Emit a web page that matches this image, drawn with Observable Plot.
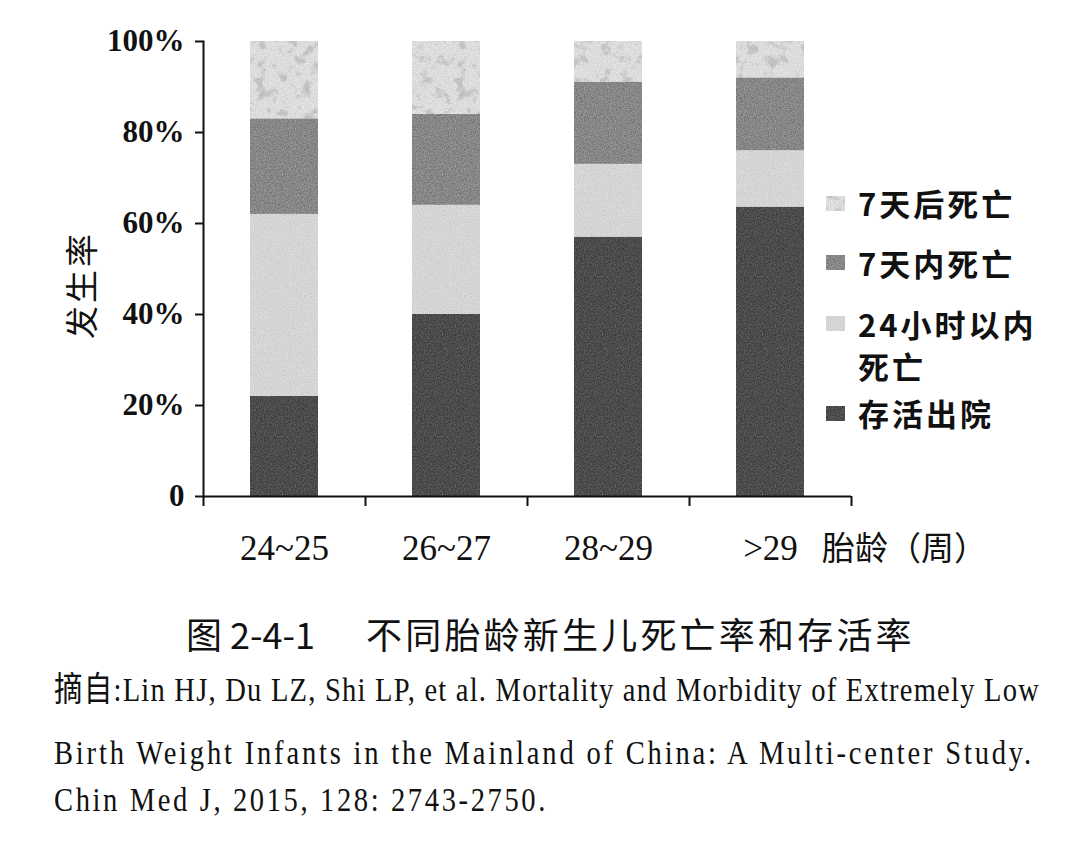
<!DOCTYPE html>
<html>
<head>
<meta charset="utf-8">
<script src="https://cdn.jsdelivr.net/npm/d3@7"></script>
<script src="https://cdn.jsdelivr.net/npm/@observablehq/plot@0.6"></script>
<style>
  html, body { margin: 0; padding: 0; background: #fff; }
  #root { position: relative; width: 1086px; height: 843px; overflow: hidden; background: #fff; }
  #chart { position: absolute; left: 0; top: 0; }
  .abs { position: absolute; white-space: nowrap; color: #111; }
  .cjk { font-family: "Noto Sans CJK SC", sans-serif; }
  .legend-item { position: absolute; left: 858px; font-family: "Noto Sans CJK SC", sans-serif; font-weight: bold; font-size: 31px; line-height: 42px; letter-spacing: 3px; color: #111; white-space: nowrap; }
  .swatch { position: absolute; left: 826px; width: 19px; height: 15px; }
  .cite { position: absolute; left: 54px; font-family: "Liberation Serif", "Noto Sans CJK SC", serif; font-size: 34px; line-height: 34px; color: #111; white-space: nowrap; transform-origin: 0 50%; }
</style>
</head>
<body>
<svg width="0" height="0" style="position:absolute">
  <defs>
    <filter id="fNoise" x="0" y="0" width="100%" height="100%">
      <feTurbulence type="fractalNoise" baseFrequency="0.85" numOctaves="2" seed="4"/>
      <feColorMatrix type="matrix" values="0 0 0 0 0  0 0 0 0 0  0 0 0 0 0  1.6 0 0 0 -0.55"/>
    </filter>
    <filter id="fNoiseLight" x="0" y="0" width="100%" height="100%">
      <feTurbulence type="fractalNoise" baseFrequency="0.85" numOctaves="2" seed="9"/>
      <feColorMatrix type="matrix" values="0 0 0 0 1  0 0 0 0 1  0 0 0 0 1  1.6 0 0 0 -0.6"/>
    </filter>
    <filter id="fBlob" x="0" y="0" width="100%" height="100%">
      <feTurbulence type="fractalNoise" baseFrequency="0.09" numOctaves="3" seed="7"/>
      <feColorMatrix type="matrix" values="0 0 0 0 0.5  0 0 0 0 0.5  0 0 0 0 0.5  5 0 0 0 -2.6"/>
    </filter>
    <pattern id="pDark" patternUnits="userSpaceOnUse" width="160" height="160">
      <rect width="160" height="160" fill="#4a4a4a"/>
      <rect width="160" height="160" filter="url(#fNoise)" opacity="0.45"/>
      <rect width="160" height="160" filter="url(#fNoiseLight)" opacity="0.25"/>
    </pattern>
    <pattern id="pLight" patternUnits="userSpaceOnUse" width="160" height="160">
      <rect width="160" height="160" fill="#dcdcdc"/>
      <rect width="160" height="160" filter="url(#fNoise)" opacity="0.12"/>
    </pattern>
    <pattern id="pMid" patternUnits="userSpaceOnUse" width="160" height="160">
      <rect width="160" height="160" fill="#8b8b8b"/>
      <rect width="160" height="160" filter="url(#fNoise)" opacity="0.35"/>
      <rect width="160" height="160" filter="url(#fNoiseLight)" opacity="0.3"/>
    </pattern>
    <pattern id="pSpeck" patternUnits="userSpaceOnUse" width="200" height="200">
      <rect width="200" height="200" fill="#e6e6e6"/>
      <rect width="200" height="200" filter="url(#fBlob)" opacity="0.7"/>
      <rect width="200" height="200" filter="url(#fNoise)" opacity="0.15"/>
    </pattern>
  </defs>
</svg>
<div id="root"></div>
<script>
// ---- data ----
const categories = ["24~25", "26~27", "28~29", ">29"];
const seriesNames = ["存活出院", "24小时以内死亡", "7天内死亡", "7天后死亡"];
const survival = [22, 40, 57, 63.6];
const death24h = [40, 24, 16, 12.4];
const death7d = [21, 20, 18, 16];
const deathAfter7d = [17, 16, 9, 8];
const yTicks = [0, 20, 40, 60, 80, 100];
const fills = ["url(#pDark)", "url(#pLight)", "url(#pMid)", "url(#pSpeck)"];
const legendLabels = ["7天后死亡", "7天内死亡", "24小时以内\n死亡", "存活出院"];

const seriesValues = [survival, death24h, death7d, deathAfter7d];
const data = [];
categories.forEach((c, i) => {
  seriesNames.forEach((s, j) => data.push({cat: c, series: s, value: seriesValues[j][i]}));
});

const root = document.getElementById("root");

const chart = Plot.plot({
  width: 1086,
  height: 600,
  marginTop: 41,
  marginBottom: 104,
  marginLeft: 203,
  marginRight: 235,
  style: {fontFamily: "'Liberation Serif', serif", color: "#111", background: "transparent"},
  x: {domain: categories, paddingInner: 0.58, paddingOuter: 0.29, label: null},
  y: {domain: [0, 100], label: null},
  color: {type: "ordinal", domain: seriesNames, range: fills},
  marks: [
    Plot.barY(data, {x: "cat", y: "value", fill: "series", order: null}),
    Plot.ruleY([0], {stroke: "#111", strokeWidth: 2}),
    Plot.frame({anchor: "left", stroke: "#111", strokeWidth: 2}),
    Plot.axisY({ticks: yTicks, tickSize: 8, tickPadding: 11, strokeWidth: 2,
      tickFormat: d => d === 0 ? "0" : d + "%", fontSize: 31, fontWeight: "bold", label: null}),
    Plot.axisX({tickSize: 0, tickPadding: 39, fontSize: 35, label: null}),
    Plot.axisX({ticks: categories, tickSize: 10, strokeWidth: 2, tickFormat: null, dx: -81, label: null}),
    Plot.axisX({ticks: [categories[3]], tickSize: 10, strokeWidth: 2, tickFormat: null, dx: 81, label: null})
  ]
});
chart.id = "chart";
root.appendChild(chart);

function addText(txt, cls, styles) {
  const d = document.createElement("div");
  d.className = cls;
  d.textContent = txt;
  Object.assign(d.style, styles);
  root.appendChild(d);
  return d;
}

// y-axis label
addText("发生率", "abs cjk", {fontSize: "33px", lineHeight: "33px", letterSpacing: "3px",
  left: "80px", top: "285px", transform: "translate(-50%, -50%) rotate(-90deg)"});
// x-axis label
addText("胎龄（周）", "abs cjk", {fontSize: "33px", lineHeight: "33px", left: "822px", top: "530px"});

// legend
const swatchFills = [fills[3], fills[2], fills[1], fills[0]];
const legendTops = [182, 242, 303, 392];
const swatchTops = [196, 255, 316, 406];
legendLabels.forEach((lab, i) => {
  const d = document.createElement("div");
  d.className = "legend-item";
  d.style.top = legendTops[i] + "px";
  d.innerHTML = lab.replace("\n", "<br>");
  root.appendChild(d);
  const s = document.createElementNS("http://www.w3.org/2000/svg", "svg");
  s.setAttribute("class", "swatch");
  s.setAttribute("width", "19");
  s.setAttribute("height", "15");
  s.style.top = swatchTops[i] + "px";
  s.innerHTML = `<rect width="19" height="15" fill="${swatchFills[i]}"/>`;
  root.appendChild(s);
});

// title
const titleNum = "图 2-4-1";
const titleText = "不同胎龄新生儿死亡率和存活率";
const t1 = addText(titleNum, "abs cjk", {fontSize: "36px", lineHeight: "36px", left: "186px", top: "615px"});
const t2 = addText(titleText, "abs cjk", {fontSize: "36px", lineHeight: "36px", letterSpacing: "3.2px", left: "366px", top: "615px"});

// citation
const citeLines = [
  "摘自:Lin HJ, Du LZ, Shi LP, et al. Mortality and Morbidity of Extremely Low",
  "Birth Weight Infants in the Mainland of China: A Multi-center Study.",
  "Chin Med J, 2015, 128: 2743-2750."
];
const citeTops = [673, 736, 783];
const citeWidths = [986, 980, 494];
const citeScale = 0.84;
citeLines.forEach((t, i) => {
  const d = addText(t, "cite", {top: citeTops[i] + "px"});
  const w = d.getBoundingClientRect().width;
  const need = citeWidths[i] / citeScale;
  let scale = citeScale;
  if (need > w) {
    d.style.letterSpacing = ((need - w) / t.length) + "px";
  } else {
    scale = citeWidths[i] / w;
  }
  d.style.transform = `scaleX(${scale})`;
});
</script>
</body>
</html>
